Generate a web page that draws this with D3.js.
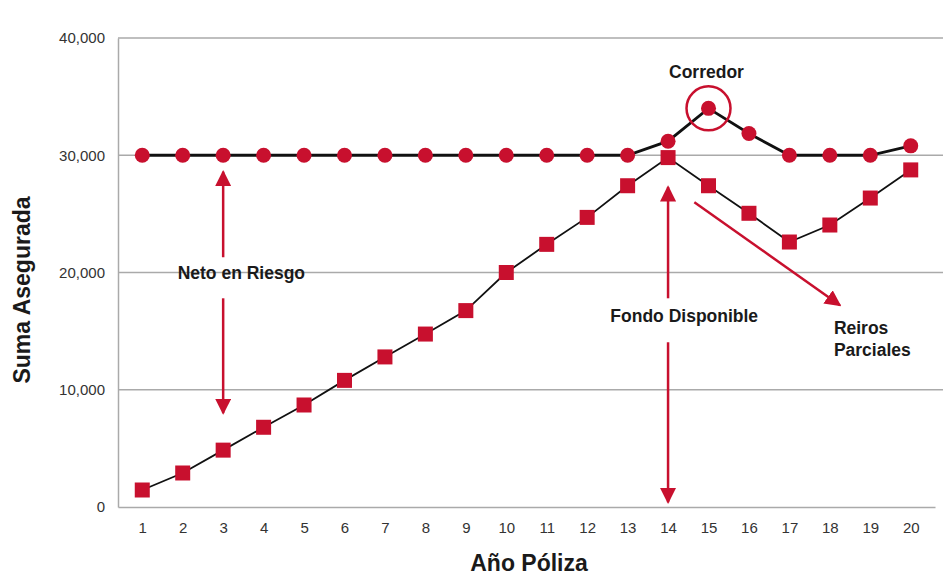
<!DOCTYPE html>
<html>
<head>
<meta charset="utf-8">
<script src="https://cdn.jsdelivr.net/npm/d3@7"></script>
<style>
  html, body { margin: 0; padding: 0; background: #fff; }
  svg { display: block; font-family: "Liberation Sans", Arial, sans-serif; }
</style>
</head>
<body>
<svg id="chart" width="945" height="576"></svg>
<script>
// ---- data ----
const years = [1,2,3,4,5,6,7,8,9,10,11,12,13,14,15,16,17,18,19,20];
const sumaAsegurada = [30000,30000,30000,30000,30000,30000,30000,30000,30000,30000,30000,30000,30000,31200,34000,31850,30000,30000,30000,30800];
const fondoDisponible = [1450,2900,4850,6800,8700,10800,12800,14750,16750,20000,22400,24700,27400,29800,27400,25050,22600,24050,26350,28750];
const yTicks = [0,10000,20000,30000,40000];
const xLabel = "Año Póliza";
const yLabel = "Suma Asegurada";
// annotations (data coordinates)
const arrows = [
  {x1: 3, y1: 21300, x2: 3, y2: 28600},
  {x1: 3, y1: 17800, x2: 3, y2: 8000},
  {x1: 14, y1: 17800, x2: 14, y2: 27300},
  {x1: 14, y1: 14050, x2: 14, y2: 400},
  {x1: 14.65, y1: 26000, x2: 18.25, y2: 17200}
];
const labels = [
  {x: 3.45, y: 19450, lines: ["Neto en Riesgo"], anchor: "middle"},
  {x: 14.4, y: 15800, lines: ["Fondo Disponible"], anchor: "middle"},
  {x: 14.95, y: 36600, lines: ["Corredor"], anchor: "middle"},
  {x: 18.1, y: 14750, lines: ["Reiros", "Parciales"], anchor: "start"}
];
const highlight = {x: 15, y: 34000};

// ---- layout ----
const svg = d3.select("#chart");
const m = {left: 118, right: 10, top: 38, bottom: 69};
const W = 945, H = 576;
const plotRight = 935;
const x = d3.scalePoint().domain(years).range([m.left, plotRight]).padding(0.6);
const xc = v => { // continuous position for fractional years
  const s = x.step(); return x(1) + (v - 1) * s;
};
const y = d3.scaleLinear().domain([0, 40000]).range([H - m.bottom, m.top]);
const red = "#c8102e";

// gridlines
svg.append("g").selectAll("line").data(yTicks.slice(1)).join("line")
  .attr("x1", m.left).attr("x2", 943)
  .attr("y1", d => y(d)).attr("y2", d => y(d))
  .attr("stroke", "#aaaaaa").attr("stroke-width", 1.5);

// y axis
const yAxis = svg.append("g").attr("transform", `translate(${m.left},0)`)
  .call(d3.axisLeft(y).tickValues(yTicks).tickFormat(d3.format(",")).tickSize(0).tickPadding(13));
yAxis.select(".domain").attr("stroke", "#aaaaaa").attr("stroke-width", 1.5);
yAxis.selectAll("text").attr("font-size", 15).attr("fill", "#333");

// x axis
const xAxis = svg.append("g").attr("transform", `translate(0,${y(0)})`)
  .call(d3.axisBottom(x).tickSize(0).tickPadding(15));
xAxis.select(".domain").attr("stroke", "#aaaaaa").attr("stroke-width", 1.5);
xAxis.selectAll("text").attr("font-size", 15).attr("fill", "#333");

// axis titles
svg.append("text").attr("x", 529).attr("y", 571)
  .attr("text-anchor", "middle").attr("font-size", 23).attr("font-weight", "bold")
  .attr("fill", "#1a1a1a").text(xLabel);
svg.append("text").attr("transform", "translate(30,290) rotate(-90)")
  .attr("text-anchor", "middle").attr("font-size", 23).attr("font-weight", "bold")
  .attr("fill", "#1a1a1a").text(yLabel);

// lines
const line = d3.line().x((d, i) => x(years[i])).y(d => y(d));
svg.append("path").datum(fondoDisponible).attr("d", line)
  .attr("fill", "none").attr("stroke", "#111").attr("stroke-width", 1.8);
svg.append("path").datum(sumaAsegurada).attr("d", line)
  .attr("fill", "none").attr("stroke", "#111").attr("stroke-width", 2.8);

// markers
const sq = 15;
svg.append("g").selectAll("rect").data(fondoDisponible).join("rect")
  .attr("x", (d, i) => x(years[i]) - sq / 2).attr("y", d => y(d) - sq / 2)
  .attr("width", sq).attr("height", sq).attr("fill", red);
svg.append("g").selectAll("circle").data(sumaAsegurada).join("circle")
  .attr("cx", (d, i) => x(years[i])).attr("cy", d => y(d))
  .attr("r", 7.5).attr("fill", red);

// highlight ring
svg.append("circle").attr("cx", x(highlight.x)).attr("cy", y(highlight.y))
  .attr("r", 22).attr("fill", "none").attr("stroke", red).attr("stroke-width", 2.5);

// arrows
const defs = svg.append("defs");
defs.append("marker").attr("id", "ah").attr("viewBox", "0 0 10 10")
  .attr("refX", 9).attr("refY", 5).attr("markerWidth", 6.5).attr("markerHeight", 6.5)
  .attr("markerUnits", "strokeWidth").attr("orient", "auto")
  .append("path").attr("d", "M0,0 L10,5 L0,10 Z").attr("fill", red);
svg.append("g").selectAll("line").data(arrows).join("line")
  .attr("x1", d => xc(d.x1)).attr("y1", d => y(d.y1))
  .attr("x2", d => xc(d.x2)).attr("y2", d => y(d.y2))
  .attr("stroke", red).attr("stroke-width", 2.5).attr("marker-end", "url(#ah)");

// labels
labels.forEach(l => {
  const t = svg.append("text").attr("x", xc(l.x)).attr("y", y(l.y))
    .attr("text-anchor", l.anchor).attr("font-size", 17.5).attr("font-weight", "bold")
    .attr("fill", "#1a1a1a");
  l.lines.forEach((s, i) => t.append("tspan").attr("x", xc(l.x)).attr("dy", i ? 22 : 0).text(s));
});
</script>
</body>
</html>
